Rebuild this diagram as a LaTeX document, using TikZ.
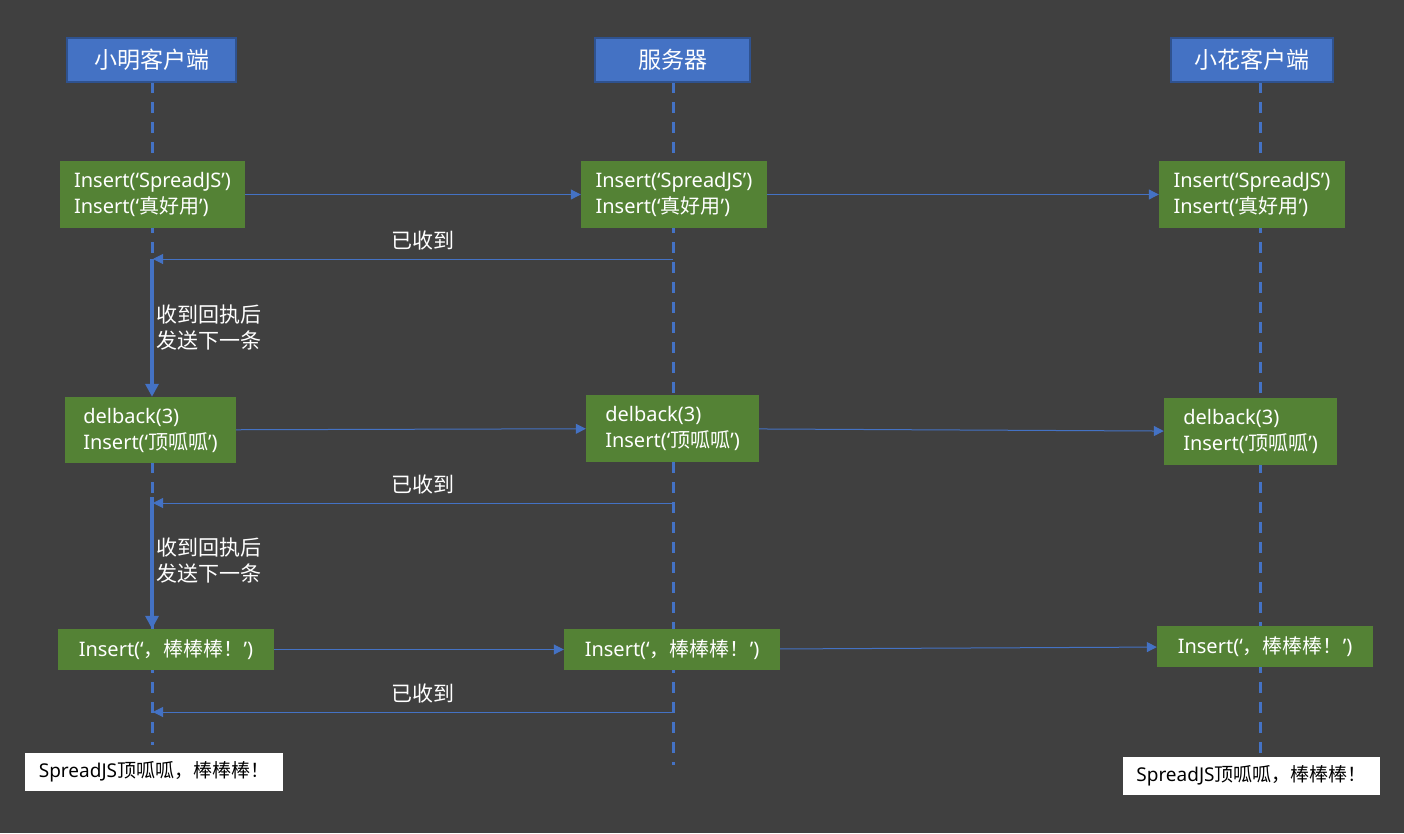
\documentclass[tikz,border=0pt]{standalone}
\usepackage{fontspec}
\setmainfont{Noto Sans}
\newfontfamily\cjk{Noto Sans CJK SC}
\usetikzlibrary{arrows.meta,positioning}

\definecolor{bgGray}{HTML}{404040}
\definecolor{hdrBlue}{HTML}{4472C4}
\definecolor{hdrEdge}{HTML}{2F528F}
\definecolor{opGreen}{HTML}{548235}

\tikzset{
  actor/.style={draw=hdrEdge, line width=2pt, fill=hdrBlue, text=white,
    font=\cjk\fontsize{23}{28}\selectfont, minimum height=44pt, inner sep=0pt},
  lifeline/.style={hdrBlue, line width=3pt, dash pattern=on 11pt off 9pt},
  op/.style={fill=opGreen, text=white, align=left,
    font=\fontsize{20}{26}\selectfont, inner sep=0pt},
  msg/.style={hdrBlue, line width=1pt, -{Triangle[length=10pt,width=10pt]}},
  hold/.style={hdrBlue, line width=4pt, -{Triangle[length=13pt,width=13pt]}},
  note/.style={text=white, font=\cjk\fontsize{21}{26}\selectfont, inner sep=2pt},
  result/.style={fill=white, text=black, font=\fontsize{19}{22}\selectfont, inner sep=0pt}
}

\begin{document}
\begin{tikzpicture}[x=1pt, y=-1pt]
  \fill[bgGray] (0,0) rectangle (1404,833);

  % Lifelines first, so that the boxes sit on top of them.
  \foreach \who/\x/\y in {xm/152/745, fw/673/765, xh/1260/757} {
    \coordinate (\who top) at (\x,82);
    \coordinate (\who end) at (\x,\y);
    \draw[lifeline] (\who top) -- (\who end);
  }

  % Participants
  \node[actor, minimum width=169pt] (xm) at (151.5,60) {小明客户端};
  \node[actor, minimum width=155pt] (fw) at (672.5,60) {服务器};
  \node[actor, minimum width=162pt] (xh) at (1252,60) {小花客户端};

  % Round 1
  \node[op, minimum width=185pt, minimum height=67pt] (xm1) at (152.5,194.5)
    {Insert(‘SpreadJS’)\\Insert(‘{\cjk 真好用}’)};
  \node[op, minimum width=186pt, minimum height=67pt] (fw1) at (674,194.5)
    {Insert(‘SpreadJS’)\\Insert(‘{\cjk 真好用}’)};
  \node[op, minimum width=186pt, minimum height=67pt] (xh1) at (1252,194.5)
    {Insert(‘SpreadJS’)\\Insert(‘{\cjk 真好用}’)};
  \draw[msg] (xm1) -- (fw1);
  \draw[msg] (fw1) -- (xh1);
  \coordinate (fw ack1) at (673,259);
  \coordinate (xm ack1) at (153,259);
  \draw[msg] (fw ack1) -- node[note, above=6pt, pos=0.48] (ack1) {已收到} (xm ack1);

  % Round 2
  \node[op, minimum width=171pt, minimum height=66pt] (xm2) at (150.5,430)
    {delback(3)\\Insert(‘{\cjk 顶呱呱}’)};
  \node[op, minimum width=173pt, minimum height=67pt] (fw2) at (672.5,428.5)
    {delback(3)\\Insert(‘{\cjk 顶呱呱}’)};
  \node[op, minimum width=173pt, minimum height=67pt] (xh2) at (1250.5,431.5)
    {delback(3)\\Insert(‘{\cjk 顶呱呱}’)};
  \coordinate (xm hold1) at (152,259);
  \draw[hold] (xm hold1) -- node[note, right, align=left] (wait1)
    {收到回执后\\发送下一条} (xm hold1 |- xm2.north);
  \draw[msg] (xm2) -- (fw2);
  \draw[msg] (fw2) -- (xh2);
  \coordinate (fw ack2) at (673,503);
  \coordinate (xm ack2) at (153,503);
  \draw[msg] (fw ack2) -- node[note, above=6pt, pos=0.48] (ack2) {已收到} (xm ack2);

  % Round 3
  \node[op, minimum width=216pt, minimum height=41pt] (xm3) at (166,649.5)
    {Insert(‘{\cjk ，棒棒棒！}’)};
  \node[op, minimum width=216pt, minimum height=41pt] (fw3) at (672,649.5)
    {Insert(‘{\cjk ，棒棒棒！}’)};
  \node[op, minimum width=216pt, minimum height=41pt] (xh3) at (1265,646.5)
    {Insert(‘{\cjk ，棒棒棒！}’)};
  \coordinate (xm hold2) at (152,497);
  \draw[hold] (xm hold2) -- node[note, right, align=left, yshift=2pt] (wait2)
    {收到回执后\\发送下一条} (xm hold2 |- xm3.north);
  \draw[msg] (xm3) -- (fw3);
  \draw[msg] (fw3) -- (xh3);
  \coordinate (fw ack3) at (673,712);
  \coordinate (xm ack3) at (153,712);
  \draw[msg] (fw ack3) -- node[note, above=6pt, pos=0.48] (ack3) {已收到} (xm ack3);

  % Final documents
  \node[result, minimum width=258pt, minimum height=38pt] (xmDoc) at (154,772)
    {SpreadJS{\cjk 顶呱呱，棒棒棒！}};
  \node[result, minimum width=257pt, minimum height=38pt] (xhDoc) at (1251.5,776)
    {SpreadJS{\cjk 顶呱呱，棒棒棒！}};
\end{tikzpicture}
\end{document}
